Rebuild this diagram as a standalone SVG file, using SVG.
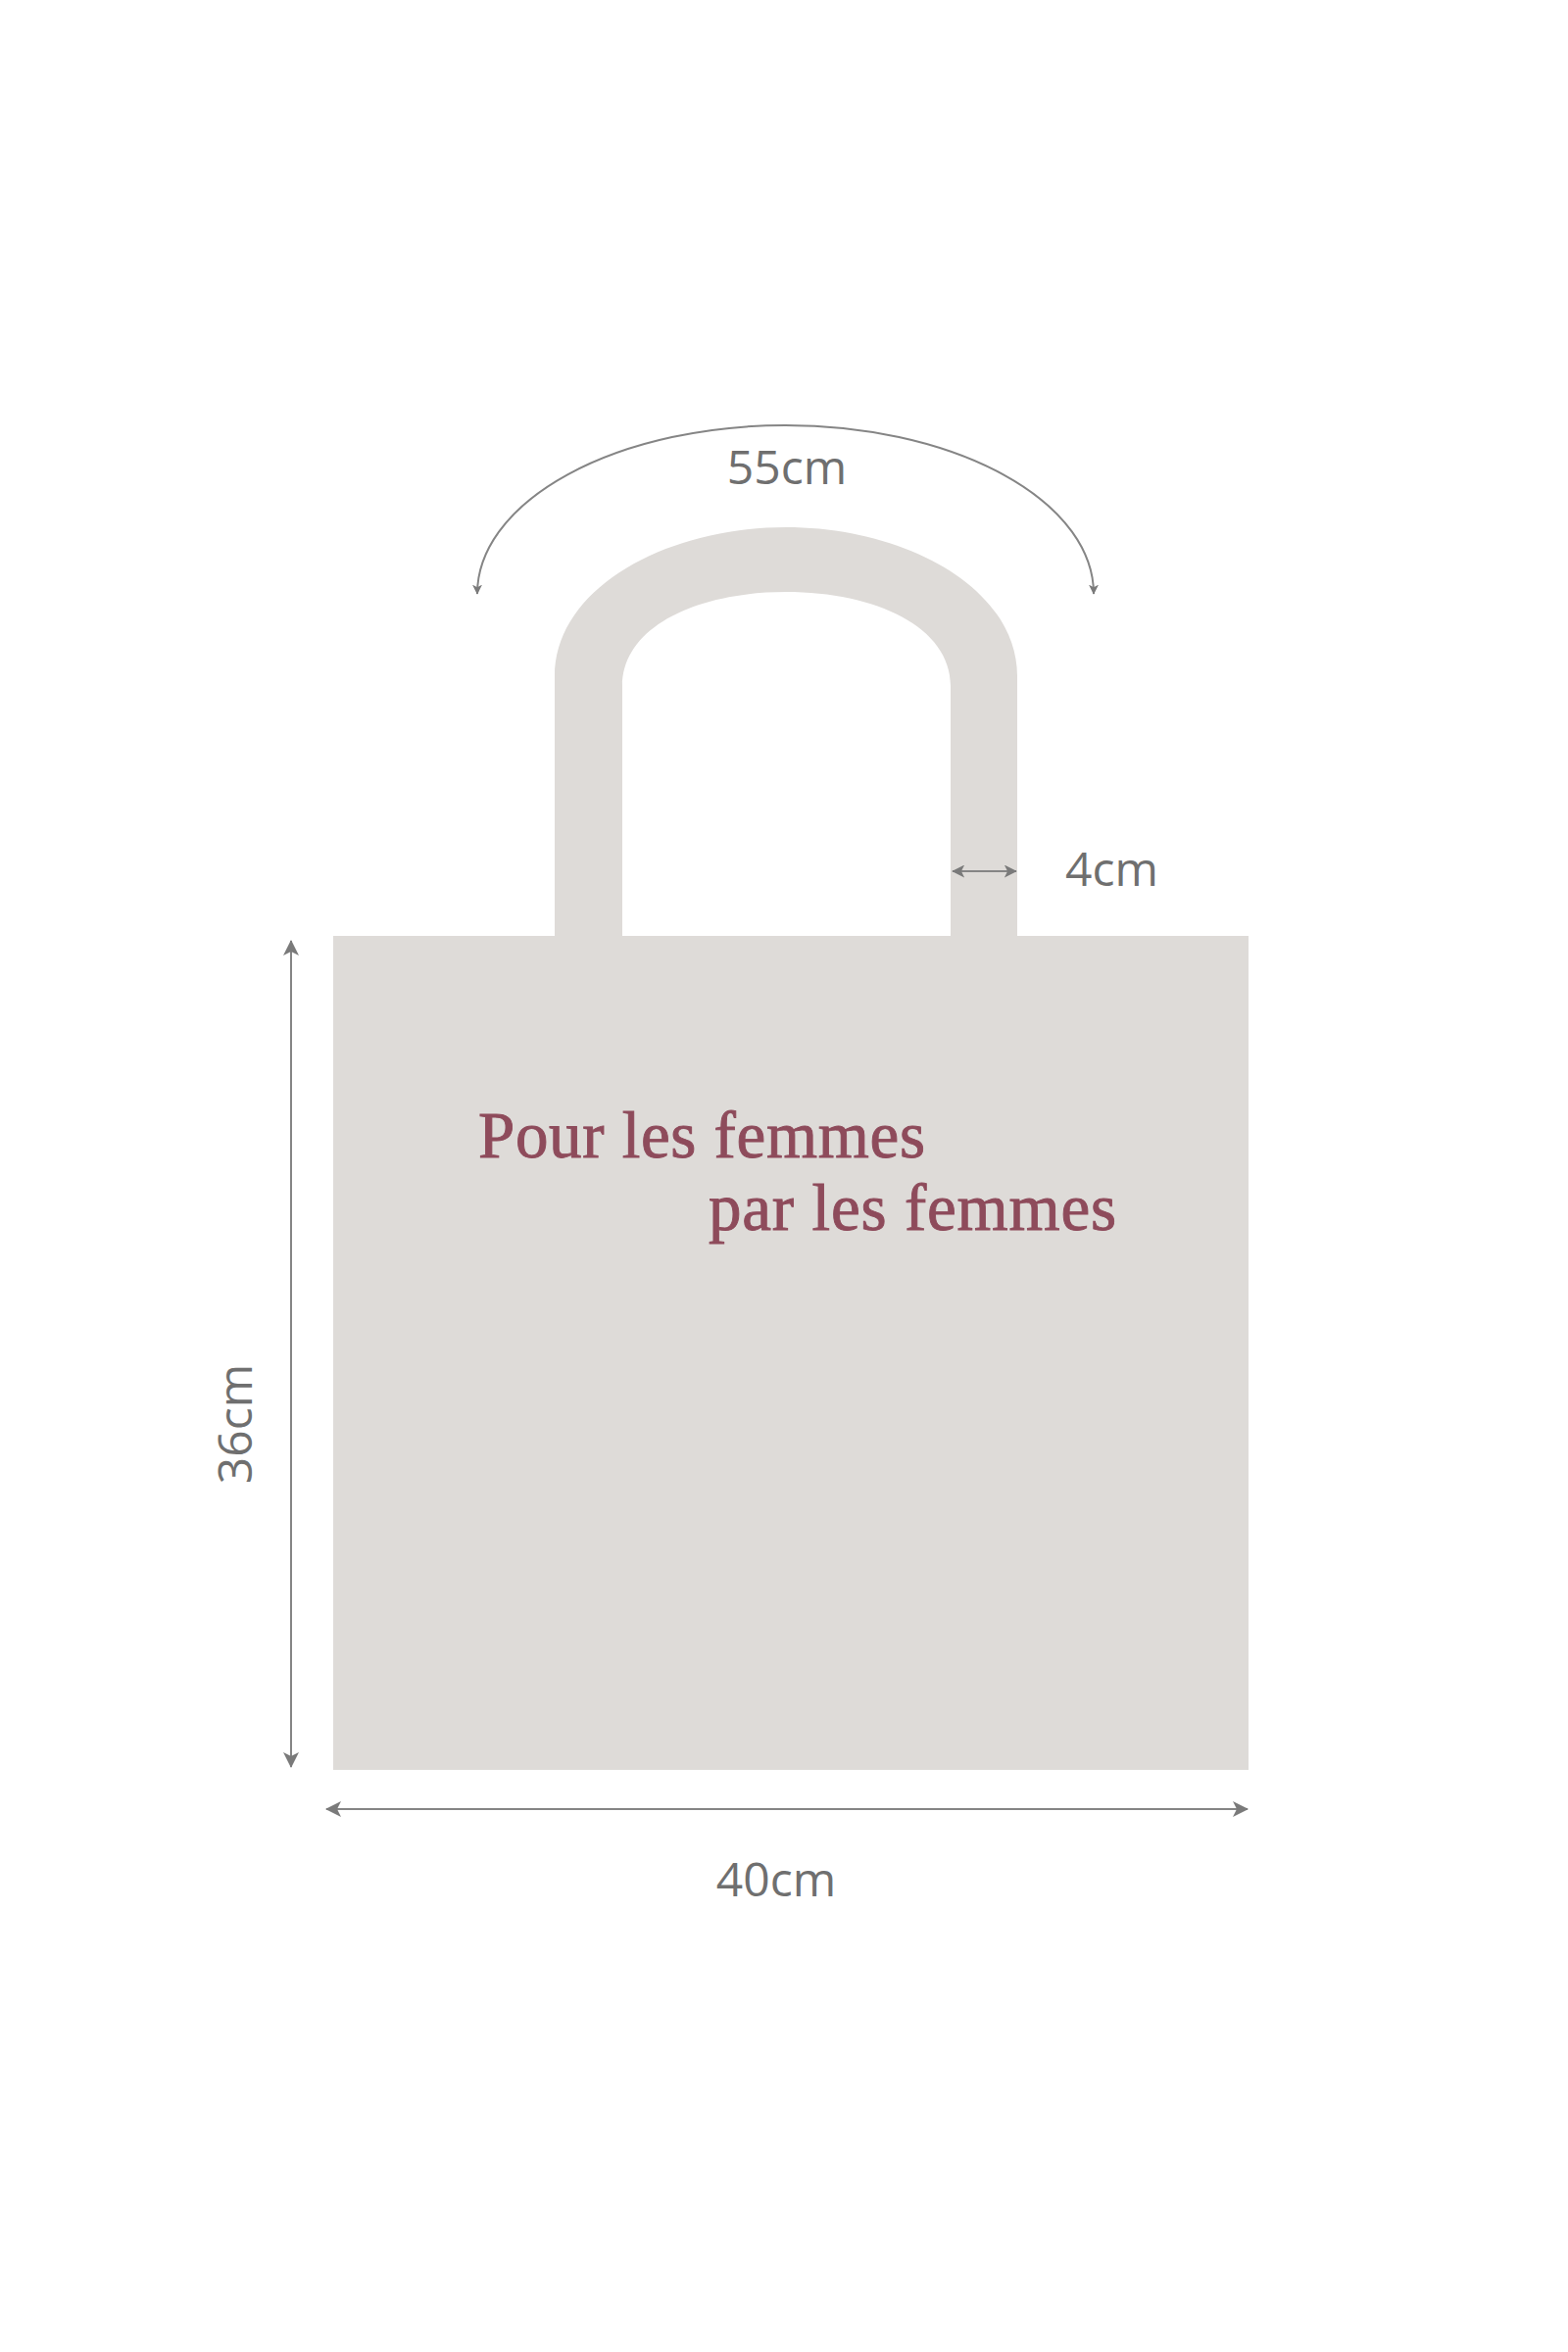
<svg xmlns="http://www.w3.org/2000/svg" width="1600" height="2400" viewBox="0 0 1600 2400">
<style>
.bagfill{fill:#DEDBD8}
.dim{fill:none;stroke:#858585;stroke-width:2}
.dimlbl{font-family:"Open Sans","Noto Sans",sans-serif;font-size:48px;fill:#6f6f6f}
.slogan{font-family:"Liberation Serif","Times New Roman",serif;font-size:67px;fill:#8E4B5B;stroke:#8E4B5B;stroke-width:0.9}
</style>
<defs>
<marker id="ah" viewBox="0 0 16 16" refX="15" refY="8" markerWidth="16" markerHeight="16" markerUnits="userSpaceOnUse" orient="auto-start-reverse">
<path d="M0,0 L16,8 L0,16 L4,8 Z" fill="#7a7a7a"/>
</marker>
<marker id="ahm" viewBox="0 0 16 16" refX="15" refY="8" markerWidth="13" markerHeight="13" markerUnits="userSpaceOnUse" orient="auto-start-reverse">
<path d="M0,0 L16,8 L0,16 L4,8 Z" fill="#7a7a7a"/>
</marker>
<marker id="ahs" viewBox="0 0 16 16" refX="15" refY="8" markerWidth="10" markerHeight="10" markerUnits="userSpaceOnUse" orient="auto-start-reverse">
<path d="M0,0 L16,8 L0,16 L4,8 Z" fill="#7a7a7a"/>
</marker>
</defs>
<rect width="1600" height="2400" fill="#ffffff"/>
<g id="bag">
<path id="handle" class="bagfill" d="M566,956 L566,690 C566,600 680,538 802,538 C924,538 1038,600 1038,690 L1038,956 L970,956 L970,700 C970,640 894,604 802,604 C710,604 635,640 635,700 L635,956 Z"/>
<rect id="body" class="bagfill" x="340" y="955" width="934" height="851"/>
<text class="slogan" x="488" y="1181" textLength="456" lengthAdjust="spacing">Pour les femmes</text>
<text class="slogan" x="723" y="1255" textLength="416" lengthAdjust="spacing">par les femmes</text>
</g>
<g id="connectors">
<path class="dim" stroke-width="1.5" d="M487,606 A314.5,172 0 0 1 1116,606" marker-start="url(#ahs)" marker-end="url(#ahs)"/>
<line class="dim" x1="297" y1="960" x2="297" y2="1803" marker-start="url(#ah)" marker-end="url(#ah)"/>
<line class="dim" stroke-width="3" x1="333" y1="1846" x2="1273" y2="1846" marker-start="url(#ah)" marker-end="url(#ah)"/>
<line class="dim" stroke-width="2.5" x1="972" y1="889" x2="1037" y2="889" marker-start="url(#ahm)" marker-end="url(#ahm)"/>
</g>
<g id="labels">
<text class="dimlbl" x="803" y="494" text-anchor="middle">55cm</text>
<text class="dimlbl" x="1087" y="904">4cm</text>
<text class="dimlbl" x="792" y="1935" text-anchor="middle">40cm</text>
<text class="dimlbl" transform="translate(257,1453) rotate(-90)" text-anchor="middle">36cm</text>
</g>
</svg>
